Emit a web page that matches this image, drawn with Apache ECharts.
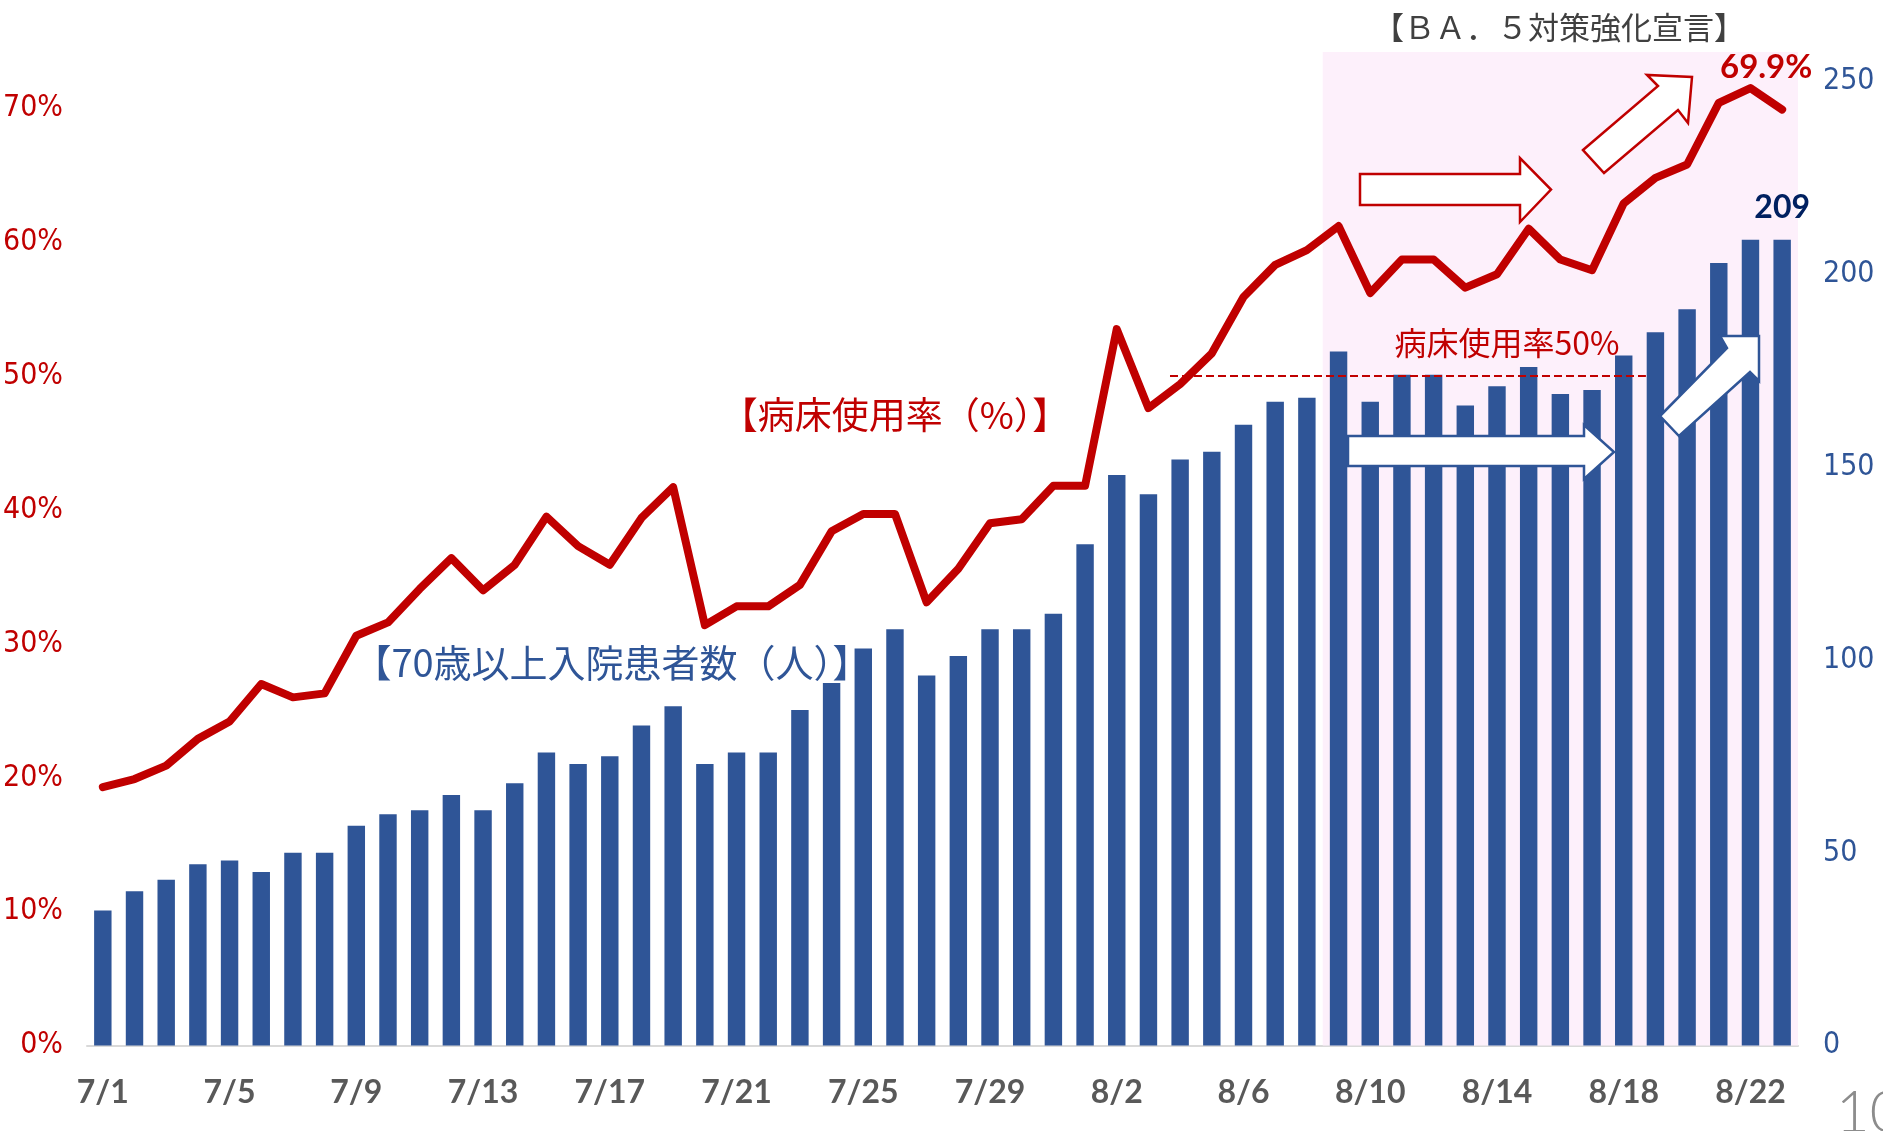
<!DOCTYPE html>
<html><head><meta charset="utf-8">
<script src="https://cdn.jsdelivr.net/npm/echarts@6/dist/echarts.min.js"></script>
<style>html,body{margin:0;padding:0;background:#fff}#c{width:1883px;height:1131px}</style>
</head><body><div id="c"></div>
<script>
const dates = ['7/1','7/2','7/3','7/4','7/5','7/6','7/7','7/8','7/9','7/10','7/11','7/12','7/13','7/14','7/15','7/16','7/17','7/18','7/19','7/20','7/21','7/22','7/23','7/24','7/25','7/26','7/27','7/28','7/29','7/30','7/31',
  '8/1','8/2','8/3','8/4','8/5','8/6','8/7','8/8','8/9','8/10','8/11','8/12','8/13','8/14','8/15','8/16','8/17','8/18','8/19','8/20','8/21','8/22','8/23'];
const patients = [35,40,43,47,48,45,50,50,57,60,61,65,61,68,76,73,75,83,88,73,76,76,87,94,103,108,96,101,108,108,112,
  130,148,143,152,154,161,167,168,180,167,174,174,166,171,176,169,170,179,185,191,203,209,209];
const bedRate = [19.3,19.9,20.9,22.9,24.2,27.0,26.0,26.3,30.6,31.6,34.1,36.4,34.0,35.9,39.5,37.3,35.9,39.4,41.7,31.4,32.8,32.8,34.4,38.4,39.7,39.7,33.1,35.6,39.0,39.3,41.8,
  41.8,53.5,47.6,49.4,51.7,55.9,58.3,59.4,61.2,56.2,58.7,58.7,56.6,57.6,61.0,58.7,57.9,62.9,64.8,65.8,70.4,71.5,69.9];
const threshold = 50;
const declarationStart = '8/9';
const refLineFrom = 33.68, refLineTo = 48.7;

const RED = '#C00000', BLUE = '#2F5597';
const lastIdx = dates.length - 1;
const dStart = dates.indexOf(declarationStart) - 0.5;
const leftMax = 74.2, rightMax = 257.7;
const AXFONT = '"Liberation Sans Narrow","DejaVu Sans Condensed","Roboto Condensed",sans-serif';

const chart = echarts.init(document.getElementById('c'));
chart.setOption({
  animation: false,
  backgroundColor: '#ffffff',
  grid: { left: 81, right: 85, top: 52, bottom: 85.5 },
  xAxis: [
    { type: 'category', data: dates, boundaryGap: true,
      axisTick: { show: false },
      axisLine: { lineStyle: { color: '#D9D9D9', width: 2 } },
      axisLabel: { interval: 3, color: '#595959', fontFamily: 'Lato', fontWeight: 'bold', fontSize: 32, margin: 31 } },
    { type: 'value', min: -0.5, max: dates.length - 0.5, show: false }
  ],
  yAxis: [
    { type: 'value', min: 0, max: leftMax, interval: 10, splitLine: { show: false },
      axisLine: { show: false }, axisTick: { show: false },
      axisLabel: { formatter: '{value}%', color: RED, fontSize: 30, fontFamily: AXFONT, margin: 24, showMaxLabel: false } },
    { type: 'value', min: 0, max: rightMax, interval: 50, position: 'right', splitLine: { show: false },
      axisLine: { show: false }, axisTick: { show: false },
      axisLabel: { color: BLUE, fontSize: 30, fontFamily: AXFONT, margin: 25, showMaxLabel: false } }
  ],
  series: [
    { type: 'scatter', xAxisIndex: 1, yAxisIndex: 0, data: [], z: 0, silent: true,
      markArea: { silent: true, itemStyle: { color: '#FDF0FB' },
        data: [[{ xAxis: dStart, yAxis: 0 }, { xAxis: dates.length - 0.5, yAxis: leftMax }]] } },
    { type: 'bar', xAxisIndex: 0, yAxisIndex: 1, barWidth: '55%', z: 2,
      itemStyle: { color: BLUE },
      data: patients.map((v, i) => i === lastIdx ? { value: v, label: { show: true, position: 'top', distance: 16, color: '#002060', fontFamily: 'Lato', fontWeight: 'bold', fontSize: 32 } } : v) },
    { type: 'scatter', xAxisIndex: 1, yAxisIndex: 0, data: [], z: 3, silent: true,
      markLine: { silent: true, symbol: 'none', label: { show: false },
        lineStyle: { type: [8, 4], color: RED, width: 2 },
        data: [[{ coord: [refLineFrom, threshold] }, { coord: [refLineTo, threshold] }]] } },
    { type: 'line', xAxisIndex: 0, yAxisIndex: 0, z: 4, symbol: 'circle', symbolSize: 0, showSymbol: true,
      lineStyle: { color: RED, width: 8, cap: 'round', join: 'round' },
      itemStyle: { color: RED },
      label: { show: false },
      data: bedRate.map((v, i) => i === lastIdx ? { value: v, label: { show: true, position: 'top', offset: [-16, -21], formatter: '{c}%', color: RED, fontFamily: 'Lato', fontWeight: 'bold', fontSize: 33 } } : v) }
  ],
  graphic: [
    { type: 'text', x: 1559, y: 27, z: 10, style: { text: '【ＢＡ．５対策強化宣言】', fill: '#404040', font: '31px "Noto Sans CJK JP"', align: 'center', verticalAlign: 'middle' } },
    { type: 'text', x: 895, y: 415, z: 10, style: { text: '【病床使用率（%）】', fill: RED, font: '37px "Noto Sans CJK JP"', align: 'center', verticalAlign: 'middle' } },
    { type: 'text', x: 612, y: 663, z: 10, style: { text: '【70歳以上入院患者数（人）】', fill: BLUE, font: '38px "Noto Sans CJK JP"', align: 'center', verticalAlign: 'middle' } },
    { type: 'text', x: 1507, y: 343, z: 10, style: { text: '病床使用率50%', fill: RED, font: '32px "Noto Sans CJK JP"', align: 'center', verticalAlign: 'middle' } },
    { type: 'text', x: 1836, y: 1084, z: 10, style: { text: '10', fill: '#8C8C8C', font: '300 58px Lato', align: 'left', verticalAlign: 'top' } },
    { type: 'polygon', z: 10, shape: { points: [[1360,174],[1520,174],[1520,158],[1551,189.5],[1520,222],[1520,205],[1360,205]] }, style: { fill: '#fff', stroke: RED, lineWidth: 2.5 } },
    { type: 'polygon', z: 10, shape: { points: [[1583,150],[1658,86],[1647,75],[1692,77],[1688,123],[1678,110],[1604,173]] }, style: { fill: '#fff', stroke: RED, lineWidth: 2.5 } },
    { type: 'polygon', z: 10, shape: { points: [[1348,436],[1584,436],[1584,425],[1614,452],[1584,479],[1584,466],[1348,466]] }, style: { fill: '#fff', stroke: BLUE, lineWidth: 2.5 } },
    { type: 'polygon', z: 10, shape: { points: [[1660,416],[1727,348],[1720,336],[1759,336],[1759,381],[1750,372],[1679,436]] }, style: { fill: '#fff', stroke: BLUE, lineWidth: 2.5 } }
  ]
});
</script>
</body></html>
